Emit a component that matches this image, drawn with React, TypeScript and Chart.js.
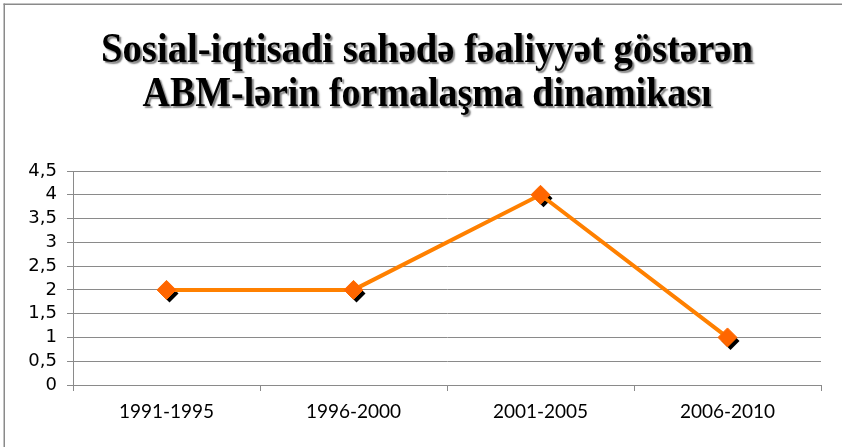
import React, { useEffect, useRef } from "react";
import { Chart, registerables } from "chart.js";

Chart.register(...registerables);

const categories = ["1991-1995", "1996-2000", "2001-2005", "2006-2010"];
const values = [2, 2, 4, 1];
const titleLines = ["Sosial-iqtisadi sahədə fəaliyyət göstərən", "ABM-lərin formalaşma dinamikası"];
const yMin = 0;
const yMax = 4.5;
const yStep = 0.5;

export default function App() {
  const ref = useRef<HTMLCanvasElement>(null);

  useEffect(() => {
    document.body.style.margin = "0";
    if (!ref.current) return;

    const borderPlugin = {
      id: "frameBorder",
      beforeDraw(chart: any) {
        const ctx = chart.ctx;
        ctx.save();
        ctx.fillStyle = "#ffffff";
        ctx.fillRect(0, 0, chart.width, chart.height);
        ctx.fillStyle = "#8a8a8a";
        ctx.fillRect(3.5, 3.5, chart.width, 1.5);
        ctx.fillRect(3.5, 3.5, 1.5, chart.height);
        ctx.restore();
      },
    };

    const shadowPlugin = {
      id: "markerShadow",
      beforeDatasetsDraw(chart: any) {
        const ctx = chart.ctx;
        const meta = chart.getDatasetMeta(0);
        ctx.save();
        ctx.fillStyle = "#000000";
        meta.data.forEach((pt: any) => {
          const r = 9;
          const x = pt.x + 3;
          const y = pt.y + 3.5;
          ctx.beginPath();
          ctx.moveTo(x, y - r);
          ctx.lineTo(x + r, y);
          ctx.lineTo(x, y + r);
          ctx.lineTo(x - r, y);
          ctx.closePath();
          ctx.fill();
        });
        ctx.restore();
      },
    };

    const titlePlugin = {
      id: "customTitle",
      afterDraw(chart: any) {
        const ctx = chart.ctx;
        ctx.save();
        ctx.font = "bold 42px 'Liberation Serif', 'Times New Roman', serif";
        ctx.textAlign = "center";
        ctx.textBaseline = "alphabetic";
        ctx.fillStyle = "#000000";
        ctx.shadowColor = "rgba(0,0,0,0.5)";
        ctx.shadowOffsetX = 2;
        ctx.shadowOffsetY = 2;
        ctx.shadowBlur = 1.5;
        const widths = [652, 569];
        const baselines = [62, 106];
        titleLines.forEach((t, i) => {
          const w = ctx.measureText(t).width;
          const s = widths[i] / w;
          ctx.save();
          ctx.translate(427, baselines[i]);
          ctx.scale(s, 1);
          ctx.fillText(t, 0, 0);
          ctx.restore();
        });
        ctx.restore();
      },
    };

    const chart = new Chart(ref.current, {
      type: "line",
      data: {
        labels: categories,
        datasets: [
          {
            data: values,
            borderColor: "#FF8000",
            borderWidth: 4,
            pointStyle: "rectRot",
            pointRadius: 9.5,
            pointBackgroundColor: "#FF6600",
            pointBorderColor: "#FF6A00",
            pointBorderWidth: 1,
            tension: 0,
            fill: false,
          },
        ],
      },
      options: {
        animation: false,
        responsive: true,
        maintainAspectRatio: false,
        layout: { padding: { top: 171, right: 21, left: 0, bottom: 0 } },
        plugins: {
          legend: { display: false },
          title: { display: false },
          tooltip: { enabled: false },
        },
        scales: {
          x: {
            type: "category",
            offset: true,
            grid: {
              offset: true,
              drawOnChartArea: false,
              drawTicks: true,
              tickLength: 6,
              color: "#8a8a8a",
            },
            border: { display: true, color: "#8a8a8a" },
            ticks: {
              font: { family: "Lato", size: 19 },
              color: "#000000",
              padding: 9,
              autoSkip: false,
            },
            afterFit: (s: any) => {
              s.height = 62;
            },
          },
          y: {
            min: yMin,
            max: yMax,
            ticks: {
              stepSize: yStep,
              autoSkip: false,
              font: { family: "DejaVu Sans", size: 18 },
              color: "#000000",
              padding: 10,
              callback: (v: any) => String(v).replace(".", ","),
            },
            grid: { color: "#8a8a8a", tickLength: 6 },
            border: { display: true, color: "#8a8a8a" },
            afterFit: (s: any) => {
              s.width = 73;
            },
          },
        },
      },
      plugins: [borderPlugin, shadowPlugin, titlePlugin],
    });

    return () => chart.destroy();
  }, []);

  return (
    <div style={{ position: "relative", width: 842, height: 447 }}>
      <canvas ref={ref} style={{ width: "842px", height: "447px" }} />
    </div>
  );
}
